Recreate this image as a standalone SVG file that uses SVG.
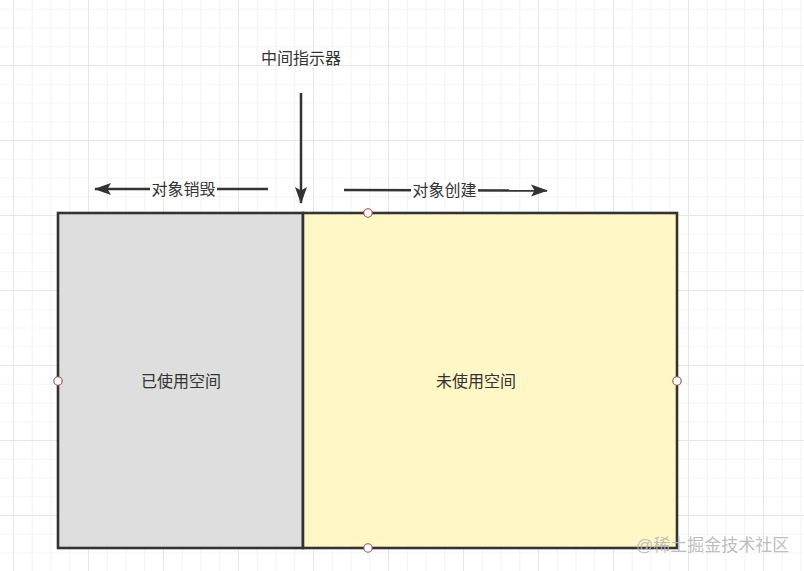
<svg xmlns="http://www.w3.org/2000/svg" width="804" height="571" viewBox="0 0 804 571">
  <defs>
    <pattern id="gridMinor" x="13" y="8.75" width="18.75" height="18.75" patternUnits="userSpaceOnUse">
      <path d="M0,0 H18.75 M0,0 V18.75" fill="none" stroke="#ececec" stroke-width="1.2"/>
    </pattern>
    <pattern id="gridMajor" x="13" y="65" width="75" height="75" patternUnits="userSpaceOnUse">
      <path d="M0,0 H75 M0,0 V75" fill="none" stroke="#e0e0e0" stroke-width="1.3"/>
    </pattern>
    <marker id="arrow" markerWidth="18" markerHeight="14" refX="16" refY="7" orient="auto" markerUnits="userSpaceOnUse">
      <path d="M0,1 L17,7 L0,13 L3.5,7 z" fill="#333333"/>
    </marker>
  </defs>
  <style>
    .box { stroke: #333333; stroke-width: 2.6; }
    .conn { stroke: #333333; stroke-width: 2.5; fill: none; marker-end: url(#arrow); }
    .lbl { font-family: "Liberation Sans", "Noto Sans CJK SC", sans-serif; font-size: 16px; fill: #333333; text-anchor: middle; dominant-baseline: central; }
    .handle { fill: #ffffff; stroke: #9b4a4a; stroke-width: 1.1; }
    .wm { font-family: "Liberation Sans", "Noto Sans CJK SC", sans-serif; font-size: 17px; fill: #b5b5b5; fill-opacity: 0.9; dominant-baseline: central; }
  </style>
  <rect x="0" y="0" width="804" height="571" fill="#ffffff"/>
  <rect x="0" y="0" width="804" height="571" fill="url(#gridMinor)"/>
  <rect x="0" y="0" width="804" height="571" fill="url(#gridMajor)"/>

  <g id="used">
    <rect class="box" x="58" y="213" width="245" height="335" fill="#dedede"/>
    <text class="lbl" x="181" y="381">已使用空间</text>
  </g>
  <g id="unused">
    <rect class="box" x="303" y="213" width="374" height="335" fill="#fff8c6"/>
    <text class="lbl" x="476" y="381">未使用空间</text>
  </g>
  <g id="pointer-label">
    <text class="lbl" x="301" y="58">中间指示器</text>
  </g>

  <g id="connectors">
    <line class="conn" x1="301" y1="93" x2="301" y2="203"/>
    <line class="conn" x1="268" y1="189" x2="95" y2="189"/>
    <rect x="150" y="179" width="67" height="20" fill="#ffffff"/>
    <text class="lbl" x="183.5" y="189">对象销毁</text>
    <line class="conn" x1="344" y1="190" x2="547" y2="190.5"/>
    <rect x="411" y="180" width="67" height="20" fill="#ffffff"/>
    <text class="lbl" x="444.5" y="190">对象创建</text>
  </g>

  <g id="handles">
    <circle class="handle" cx="368" cy="213" r="4.2"/>
    <circle class="handle" cx="58" cy="381" r="4.2"/>
    <circle class="handle" cx="677" cy="381" r="4.2"/>
    <circle class="handle" cx="368" cy="548" r="4.2"/>
  </g>

  <text class="wm" x="636" y="545">@稀土掘金技术社区</text>
</svg>
